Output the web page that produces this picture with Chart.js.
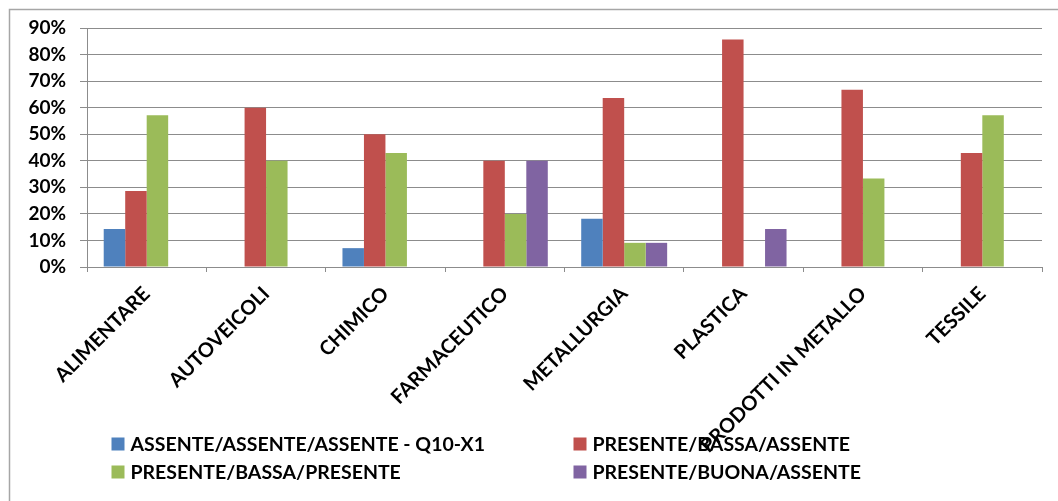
<!DOCTYPE html>
<html>
<head>
<meta charset="utf-8">
<script src="https://cdn.jsdelivr.net/npm/chart.js@4/dist/chart.umd.min.js"></script>
<style>
  html, body { margin: 0; padding: 0; background: #fff; }
  #wrap { position: relative; width: 1058px; height: 501px; }
</style>
</head>
<body>
<div id="wrap"><canvas id="chart"></canvas></div>
<script>
// Sectors on the category axis
const categories = ['ALIMENTARE', 'AUTOVEICOLI', 'CHIMICO', 'FARMACEUTICO', 'METALLURGIA', 'PLASTICA', 'PRODOTTI IN METALLO', 'TESSILE'];

// Series labels
const seriesNames = [
  'ASSENTE/ASSENTE/ASSENTE - Q10-X1',
  'PRESENTE/BASSA/ASSENTE',
  'PRESENTE/BASSA/PRESENTE',
  'PRESENTE/BUONA/ASSENTE'
];

// Share of firms per sector (%)
const assenteAssenteAssente = [14.3, 0, 7.1, 0, 18.2, 0, 0, 0];
const presenteBassaAssente  = [28.6, 60.0, 50.0, 40.0, 63.6, 85.7, 66.7, 42.9];
const presenteBassaPresente = [57.1, 40.0, 42.9, 20.0, 9.1, 0, 33.3, 57.1];
const presenteBuonaAssente  = [0, 0, 0, 40.0, 9.1, 14.3, 0, 0];

// Value axis ticks (%)
const yTicks = [0, 10, 20, 30, 40, 50, 60, 70, 80, 90];

const seriesColors = ['#4F81BD', '#C0504D', '#9BBB59', '#8064A2'];
const seriesValues = [assenteAssenteAssente, presenteBassaAssente, presenteBassaPresente, presenteBuonaAssente];

const FONT = 'Lato, "DejaVu Sans", sans-serif';

// Frame lines along the top and left edges of the canvas
const framePlugin = {
  id: 'frame',
  beforeDraw(chart) {
    const ctx = chart.ctx;
    ctx.save();
    ctx.fillStyle = '#ffffff';
    ctx.fillRect(0, 0, chart.width, chart.height);
    ctx.strokeStyle = '#a6a6a6';
    ctx.lineWidth = 1.5;
    ctx.beginPath();
    ctx.moveTo(9.5, chart.height);
    ctx.lineTo(9.5, 9.5);
    ctx.lineTo(chart.width, 9.5);
    ctx.stroke();
    ctx.restore();
  }
};

// Two-column legend under the plot, built from the datasets
const gridLegendPlugin = {
  id: 'gridLegend',
  afterDraw(chart, args, opts) {
    const ctx = chart.ctx;
    ctx.save();
    ctx.font = 'bold ' + opts.fontSize + 'px ' + FONT;
    ctx.textBaseline = 'middle';
    ctx.textAlign = 'left';
    chart.data.datasets.forEach((ds, i) => {
      const col = i % 2, row = Math.floor(i / 2);
      const x = opts.columns[col];
      const y = opts.rows[row];
      ctx.fillStyle = ds.backgroundColor;
      ctx.fillRect(x, y - opts.box / 2, opts.box, opts.box);
      ctx.fillStyle = '#000';
      ctx.fillText(ds.label, x + opts.box + opts.gap, y + 1);
    });
    ctx.restore();
  }
};

const chart = new Chart(document.getElementById('chart'), {
  type: 'bar',
  data: {
    labels: categories,
    datasets: seriesNames.map((name, i) => ({
      label: name,
      data: seriesValues[i],
      backgroundColor: seriesColors[i],
      borderWidth: 0,
      categoryPercentage: 0.72,
      barPercentage: 1.0
    }))
  },
  options: {
    responsive: true,
    maintainAspectRatio: false,
    animation: false,
    devicePixelRatio: 1,
    layout: { padding: { top: 28, right: 16, bottom: 0, left: 0 } },
    plugins: {
      legend: { display: false },
      tooltip: { enabled: false },
      gridLegend: { columns: [111.5, 573.5], rows: [444, 472], box: 13, gap: 6, fontSize: 19.5 }
    },
    scales: {
      x: {
        grid: { display: true, drawOnChartArea: false, drawTicks: true, tickLength: 5, color: '#8c8c8c', offset: true },
        border: { display: true, color: '#8c8c8c', width: 1 },
        ticks: {
          color: '#000',
          font: { family: FONT, size: 20, weight: 'bold' },
          maxRotation: 45,
          minRotation: 45,
          autoSkip: false,
          padding: 10
        },
        afterFit(scale) { scale.height = 234; }
      },
      y: {
        min: 0,
        max: 90,
        afterBuildTicks(scale) { scale.ticks = yTicks.map(v => ({ value: v })); },
        grid: { color: '#8c8c8c', lineWidth: 1, tickLength: 7, drawTicks: true },
        border: { display: true, color: '#8c8c8c', width: 1 },
        ticks: {
          color: '#000',
          font: { family: FONT, size: 19, weight: 'bold' },
          padding: 14,
          callback: v => v + '%'
        },
        afterFit(scale) { scale.width = 87; }
      }
    }
  },
  plugins: [framePlugin, gridLegendPlugin]
});
</script>
</body>
</html>
